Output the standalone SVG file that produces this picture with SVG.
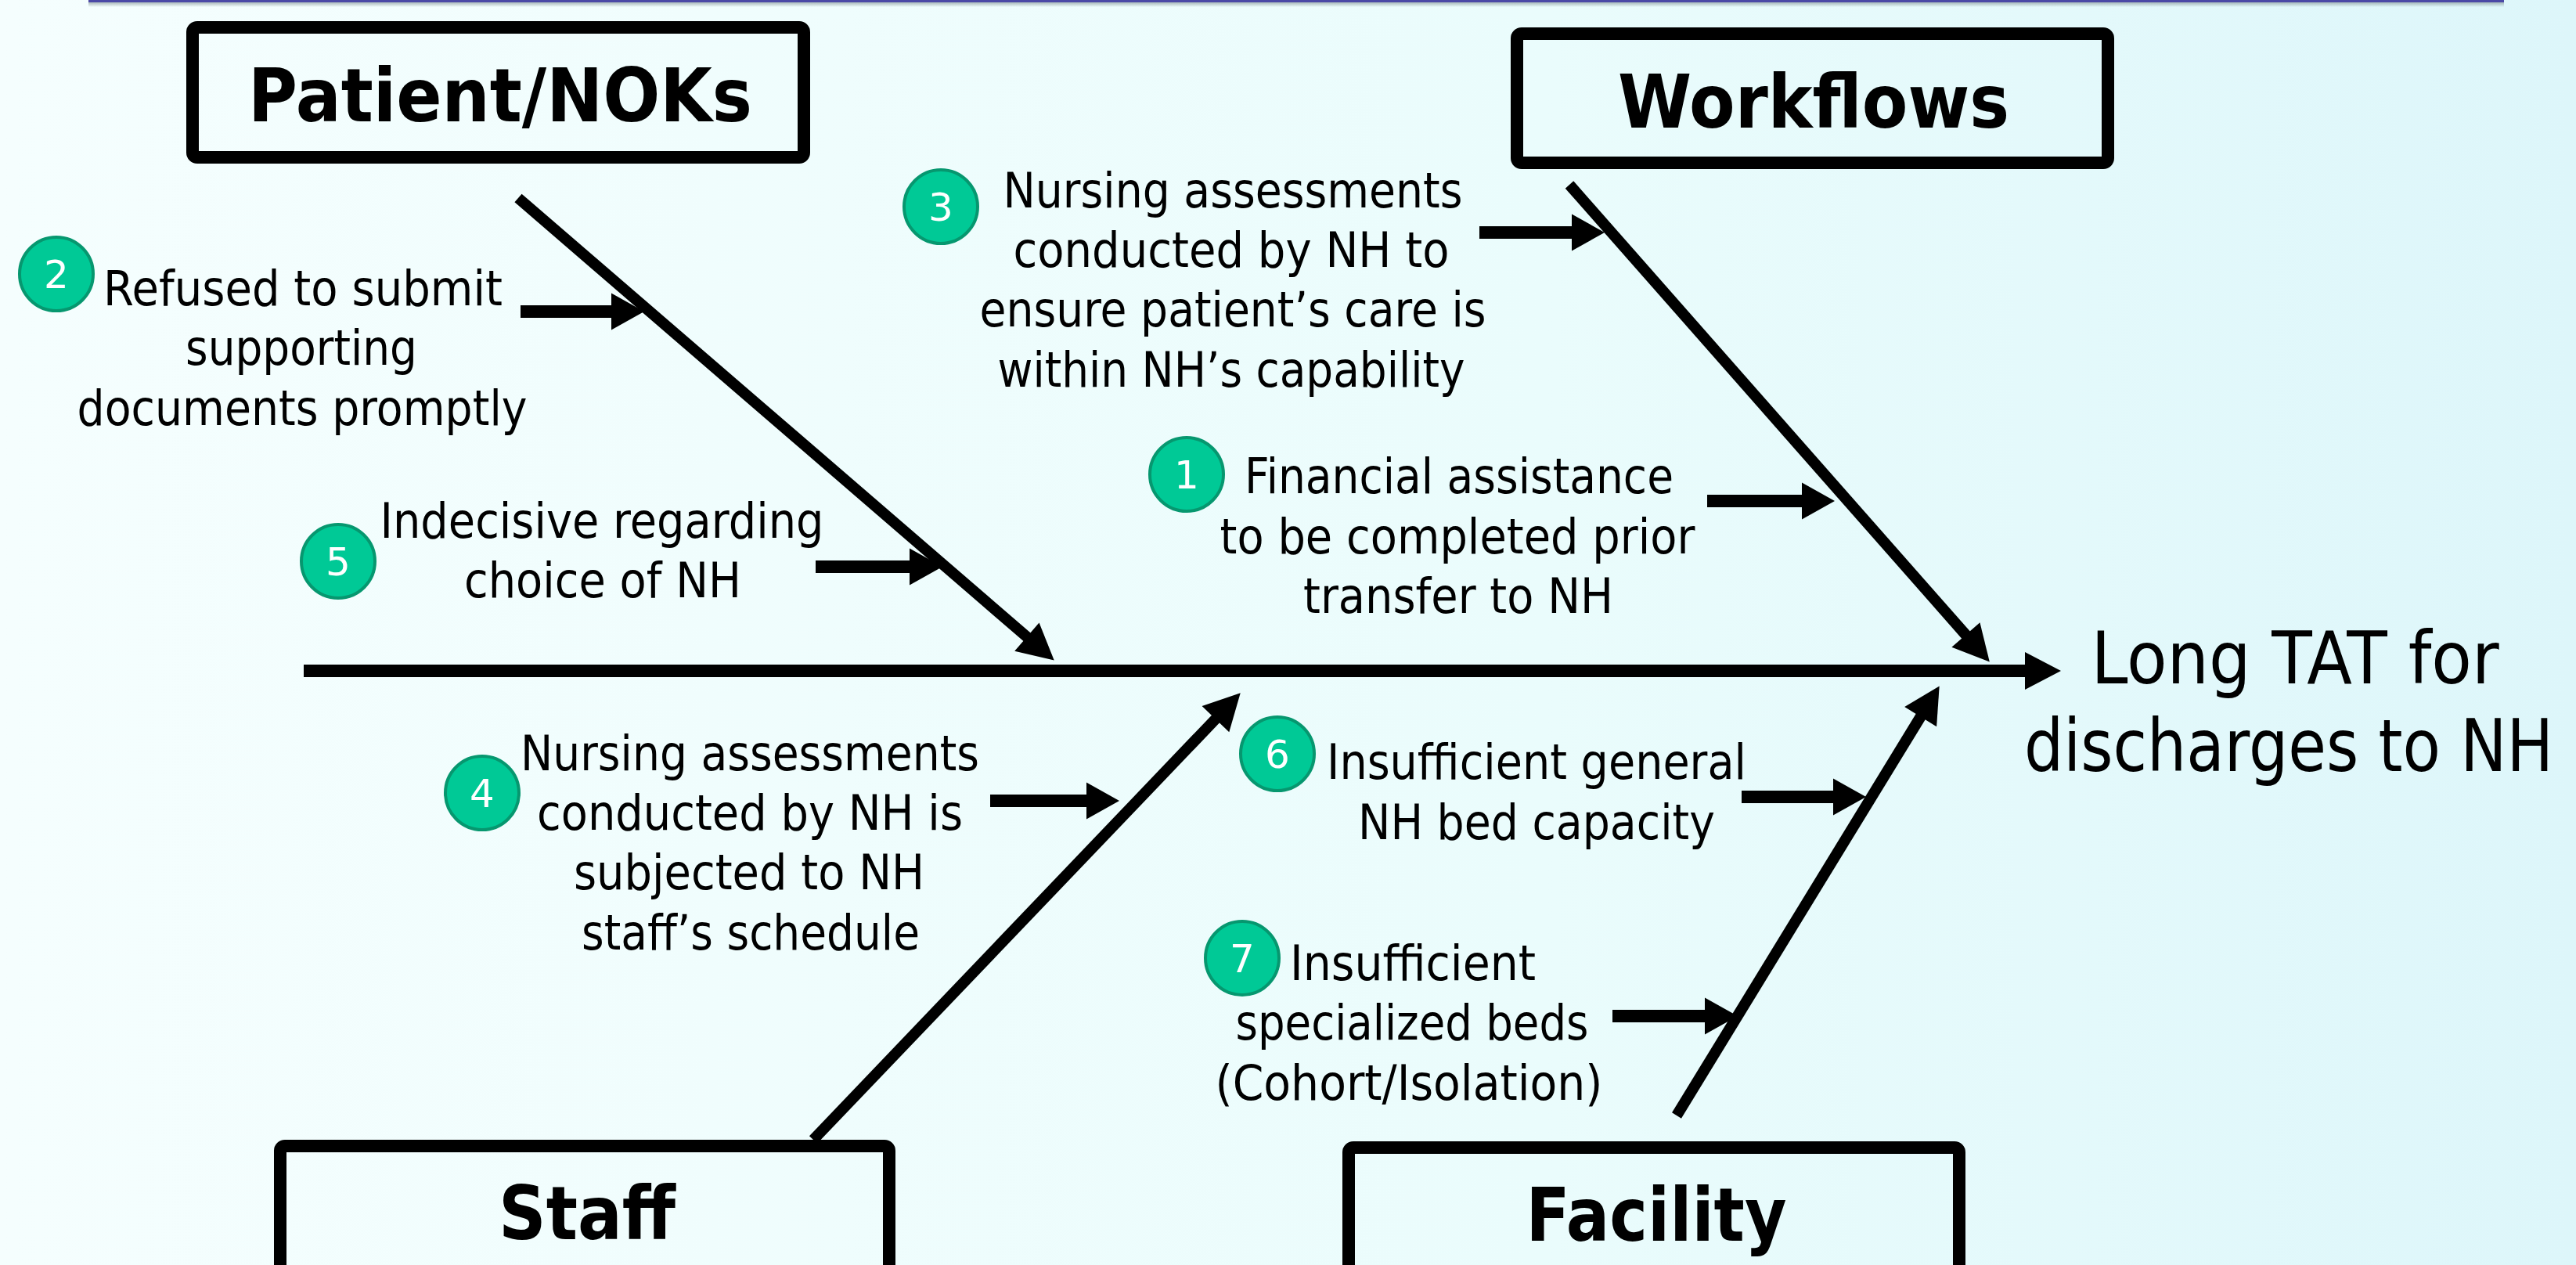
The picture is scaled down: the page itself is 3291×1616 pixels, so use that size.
<svg xmlns="http://www.w3.org/2000/svg" width="3291" height="1616" viewBox="0 0 3291 1616">
<defs>
<linearGradient id="bg" x1="0" y1="0" x2="1" y2="0">
<stop offset="0" stop-color="#F5FEFE"/>
<stop offset="0.6" stop-color="#EAFCFC"/>
<stop offset="1" stop-color="#DDF6FA"/>
</linearGradient>
<linearGradient id="shadow" x1="0" y1="0" x2="0" y2="1">
<stop offset="0" stop-color="#8A9A9C" stop-opacity="0.8"/>
<stop offset="1" stop-color="#8A9A9C" stop-opacity="0"/>
</linearGradient>
<marker id="ah" markerUnits="userSpaceOnUse" orient="auto" overflow="visible" markerWidth="60" markerHeight="60" refX="0" refY="0">
<path d="M-16,-24 L30,0 L-16,24 Z" fill="#000"/>
</marker>
<marker id="ah2" markerUnits="userSpaceOnUse" orient="auto" overflow="visible" markerWidth="60" markerHeight="60" refX="0" refY="0">
<path d="M-12,-23.5 L30,0 L-12,23.5 Z" fill="#000"/>
</marker>
</defs>
<style>
.lbl{font-family:"DejaVu Sans",Verdana,sans-serif;font-size:63px;fill:#000;text-anchor:middle}
.ttl{font-family:"DejaVu Sans",Verdana,sans-serif;font-weight:bold;font-size:95px;fill:#000;text-anchor:middle}
.res{font-family:"DejaVu Sans",Verdana,sans-serif;font-size:93px;fill:#000;text-anchor:middle}
.box{fill:none;stroke:#000;stroke-width:16}
.badge circle{fill:#00C996;stroke:#06976F;stroke-width:4}
.badge text{font-family:"DejaVu Sans",Verdana,sans-serif;font-size:50px;fill:#fff;text-anchor:middle}
.bone{stroke:#000;stroke-width:14;fill:none;marker-end:url(#ah)}
.spine{stroke:#000;stroke-width:16;fill:none;marker-end:url(#ah)}
.cause{stroke:#000;stroke-width:16;fill:none;marker-end:url(#ah2)}
</style>
<rect x="0" y="0" width="3291" height="1616" fill="url(#bg)"/>
<rect x="113" y="2" width="3086" height="7" fill="url(#shadow)"/>
<rect x="113" y="0" width="3086" height="3" fill="#4B49A6"/>

<g id="patient-noks">
<rect class="box" x="246" y="35" width="781" height="166" rx="6"/>
<text class="ttl" x="639" y="155" textLength="644" lengthAdjust="spacingAndGlyphs">Patient/NOKs</text>
</g>
<g id="workflows">
<rect class="box" x="1938" y="43" width="755" height="165" rx="6"/>
<text class="ttl" x="2317" y="163" textLength="500" lengthAdjust="spacingAndGlyphs">Workflows</text>
</g>
<g id="staff">
<rect class="box" x="358" y="1464" width="778" height="300" rx="6"/>
<text class="ttl" x="750" y="1583" textLength="226" lengthAdjust="spacingAndGlyphs">Staff</text>
</g>
<g id="facility">
<rect class="box" x="1723" y="1466" width="780" height="300" rx="6"/>
<text class="ttl" x="2116" y="1585" textLength="333" lengthAdjust="spacingAndGlyphs">Facility</text>
</g>
<g id="effect">
<text class="res" transform="translate(2932,873) scale(0.86,1)" x="0" y="0" textLength="606" lengthAdjust="spacingAndGlyphs">Long TAT for</text>
<text class="res" transform="translate(2924,985) scale(0.86,1)" x="0" y="0" textLength="786" lengthAdjust="spacingAndGlyphs">discharges to NH</text>
</g>

<g id="connectors">
<line class="spine" x1="388" y1="857" x2="2603" y2="857"/>
<line class="bone" x1="662" y1="253" x2="1324" y2="824"/>
<line class="bone" x1="2005" y1="236" x2="2522" y2="823"/>
<line class="bone" x1="1039" y1="1456" x2="1564" y2="907"/>
<line class="bone" x1="2142" y1="1425" x2="2462" y2="902"/>
<line class="cause" x1="665" y1="398" x2="793" y2="398"/>
<line class="cause" x1="1890" y1="297" x2="2020" y2="297"/>
<line class="cause" x1="2181" y1="640" x2="2314" y2="640"/>
<line class="cause" x1="1042" y1="724" x2="1174" y2="724"/>
<line class="cause" x1="1265" y1="1023" x2="1400" y2="1023"/>
<line class="cause" x1="2225" y1="1018" x2="2354" y2="1018"/>
<line class="cause" x1="2060" y1="1298" x2="2190" y2="1298"/>
</g>

<g id="cause-1">
<g class="badge"><circle cx="1516" cy="606" r="47"/><text x="1516" y="624">1</text></g>
<text class="lbl" x="1864" y="630" textLength="548" lengthAdjust="spacingAndGlyphs">Financial assistance</text>
<text class="lbl" x="1862" y="707" textLength="607" lengthAdjust="spacingAndGlyphs">to be completed prior</text>
<text class="lbl" x="1863" y="783" textLength="396" lengthAdjust="spacingAndGlyphs">transfer to NH</text>
</g>
<g id="cause-2">
<g class="badge"><circle cx="72" cy="350" r="47"/><text x="72" y="368">2</text></g>
<text class="lbl" x="387" y="390" textLength="510" lengthAdjust="spacingAndGlyphs">Refused to submit</text>
<text class="lbl" x="385" y="466" textLength="296" lengthAdjust="spacingAndGlyphs">supporting</text>
<text class="lbl" x="386" y="543" textLength="575" lengthAdjust="spacingAndGlyphs">documents promptly</text>
</g>
<g id="cause-3">
<g class="badge"><circle cx="1202" cy="264" r="47"/><text x="1202" y="282">3</text></g>
<text class="lbl" x="1575" y="265" textLength="587" lengthAdjust="spacingAndGlyphs">Nursing assessments</text>
<text class="lbl" x="1573" y="341" textLength="557" lengthAdjust="spacingAndGlyphs">conducted by NH to</text>
<text class="lbl" x="1575" y="417" textLength="647" lengthAdjust="spacingAndGlyphs">ensure patient’s care is</text>
<text class="lbl" x="1573" y="494" textLength="597" lengthAdjust="spacingAndGlyphs">within NH’s capability</text>
</g>
<g id="cause-4">
<g class="badge"><circle cx="616" cy="1013" r="47"/><text x="616" y="1031">4</text></g>
<text class="lbl" x="958" y="984" textLength="586" lengthAdjust="spacingAndGlyphs">Nursing assessments</text>
<text class="lbl" x="958" y="1060" textLength="544" lengthAdjust="spacingAndGlyphs">conducted by NH is</text>
<text class="lbl" x="957" y="1136" textLength="448" lengthAdjust="spacingAndGlyphs">subjected to NH</text>
<text class="lbl" x="959" y="1213" textLength="432" lengthAdjust="spacingAndGlyphs">staff’s schedule</text>
</g>
<g id="cause-5">
<g class="badge"><circle cx="432" cy="717" r="47"/><text x="432" y="735">5</text></g>
<text class="lbl" x="769" y="687" textLength="567" lengthAdjust="spacingAndGlyphs">Indecisive regarding</text>
<text class="lbl" x="770" y="763" textLength="354" lengthAdjust="spacingAndGlyphs">choice of NH</text>
</g>
<g id="cause-6">
<g class="badge"><circle cx="1632" cy="963" r="47"/><text x="1632" y="981">6</text></g>
<text class="lbl" x="1963" y="995" textLength="536" lengthAdjust="spacingAndGlyphs">Insufficient general</text>
<text class="lbl" x="1963" y="1072" textLength="456" lengthAdjust="spacingAndGlyphs">NH bed capacity</text>
</g>
<g id="cause-7">
<g class="badge"><circle cx="1587" cy="1224" r="47"/><text x="1587" y="1242">7</text></g>
<text class="lbl" x="1805" y="1252" textLength="314" lengthAdjust="spacingAndGlyphs">Insufficient</text>
<text class="lbl" x="1804" y="1328" textLength="451" lengthAdjust="spacingAndGlyphs">specialized beds</text>
<text class="lbl" x="1800" y="1405" textLength="495" lengthAdjust="spacingAndGlyphs">(Cohort/Isolation)</text>
</g>
</svg>
